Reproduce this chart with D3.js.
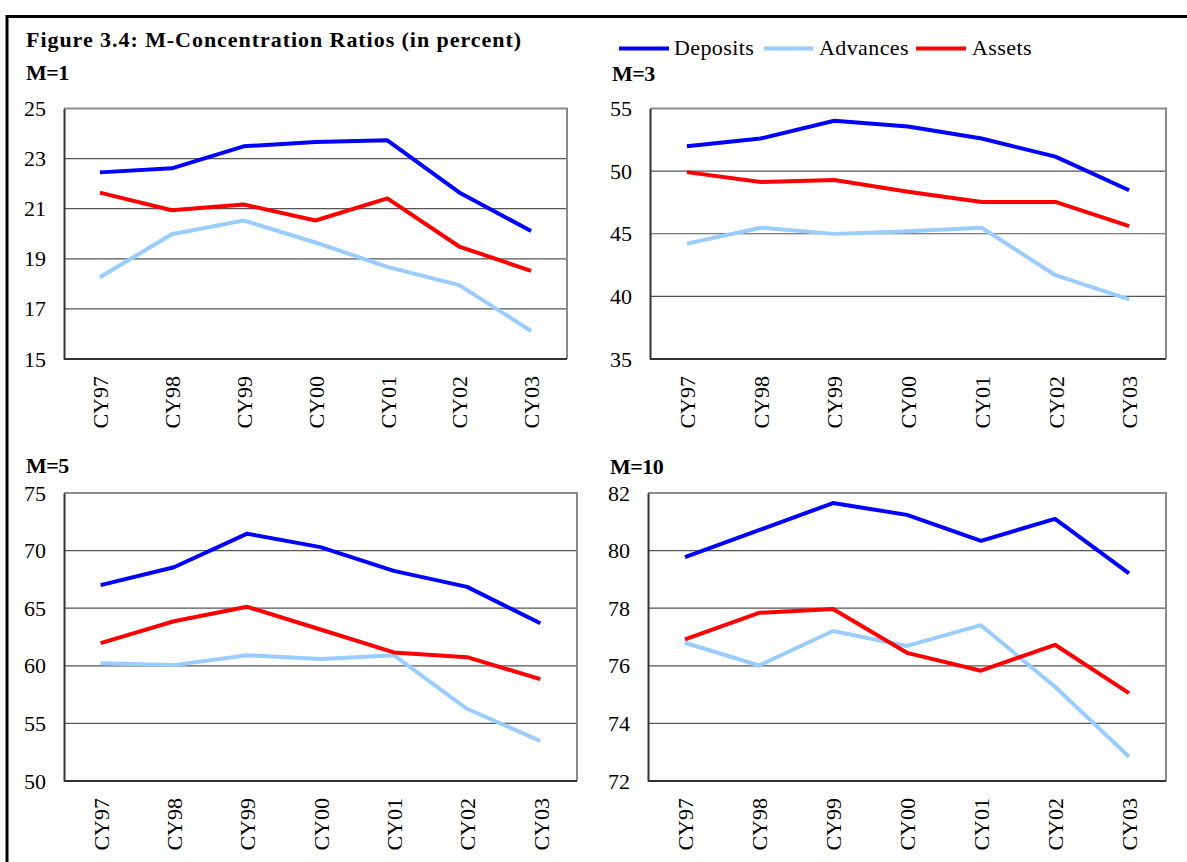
<!DOCTYPE html>
<html>
<head>
<meta charset="utf-8">
<script src="https://cdn.jsdelivr.net/npm/d3@7"></script>
<style>
  html, body { margin: 0; padding: 0; background: #fff; }
  svg { display: block; }
  text { font-family: "Liberation Serif", "Times New Roman", serif; fill: #000; }
</style>
</head>
<body>
<svg id="chart" width="1187" height="862"></svg>
<script>
// ---------------- data ----------------
const categories = ["CY97", "CY98", "CY99", "CY00", "CY01", "CY02", "CY03"];
const seriesNames = ["Deposits", "Advances", "Assets"];

const m1Deposits = [22.45, 22.61, 23.49, 23.66, 23.73, 21.65, 20.11];
const m1Advances = [18.26, 19.98, 20.53, 19.65, 18.68, 17.95, 16.12];
const m1Assets   = [21.64, 20.94, 21.17, 20.53, 21.41, 19.49, 18.52];

const m3Deposits = [51.98, 52.60, 54.02, 53.57, 52.60, 51.16, 48.47];
const m3Advances = [44.21, 45.48, 44.99, 45.19, 45.48, 41.69, 39.76];
const m3Assets   = [49.92, 49.13, 49.29, 48.36, 47.54, 47.54, 45.61];

const m5Deposits = [67.00, 68.55, 71.47, 70.30, 68.24, 66.85, 63.70];
const m5Advances = [60.23, 60.06, 60.92, 60.58, 60.92, 56.27, 53.47];
const m5Assets   = [61.97, 63.87, 65.12, 63.15, 61.16, 60.75, 58.84];

const m10Deposits = [79.77, 80.71, 81.65, 81.24, 80.34, 81.10, 79.21];
const m10Advances = [76.80, 76.01, 77.21, 76.69, 77.41, 75.27, 72.84];
const m10Assets   = [76.92, 77.84, 77.97, 76.45, 75.83, 76.73, 75.05];

const m1Ticks  = [15, 17, 19, 21, 23, 25];
const m3Ticks  = [35, 40, 45, 50, 55];
const m5Ticks  = [50, 55, 60, 65, 70, 75];
const m10Ticks = [72, 74, 76, 78, 80, 82];

const panelTitles = ["M=1", "M=3", "M=5", "M=10"];
const chartTitle = "Figure 3.4: M-Concentration Ratios (in percent)";

// ---------------- style / layout ----------------
const colors = { Deposits: "#0000ff", Advances: "#99ccff", Assets: "#ff0000" };
const FONT = 22;

const layout = [
  { left: 64,  right: 567,  top: 108.5, bottom: 359, titleX: 26,  titleY: 80 },
  { left: 650, right: 1166, top: 108.5, bottom: 359, titleX: 612, titleY: 81 },
  { left: 64,  right: 577,  top: 493,   bottom: 781, titleX: 26,  titleY: 473 },
  { left: 648, right: 1166, top: 493,   bottom: 781, titleX: 610, titleY: 474 }
];

const panels = [
  { title: panelTitles[0], ticks: m1Ticks,  series: [m1Deposits, m1Advances, m1Assets] },
  { title: panelTitles[1], ticks: m3Ticks,  series: [m3Deposits, m3Advances, m3Assets] },
  { title: panelTitles[2], ticks: m5Ticks,  series: [m5Deposits, m5Advances, m5Assets] },
  { title: panelTitles[3], ticks: m10Ticks, series: [m10Deposits, m10Advances, m10Assets] }
];

const svg = d3.select("#chart");

// outer frame
svg.append("rect")
  .attr("x", 7).attr("y", 16.5)
  .attr("width", 1300).attr("height", 1000)
  .attr("fill", "none").attr("stroke", "#000").attr("stroke-width", 3);

// figure title
svg.append("text")
  .attr("x", 26).attr("y", 47)
  .attr("font-size", FONT).attr("font-weight", "bold")
  .attr("textLength", 495).attr("lengthAdjust", "spacing")
  .text(chartTitle);

// legend
const legendItems = [
  { name: seriesNames[0], x1: 619, x2: 669, tx: 674 },
  { name: seriesNames[1], x1: 764, x2: 813, tx: 819 },
  { name: seriesNames[2], x1: 916, x2: 966, tx: 972 }
];
const legend = svg.append("g");
legendItems.forEach(it => {
  legend.append("line")
    .attr("x1", it.x1).attr("x2", it.x2)
    .attr("y1", 48.5).attr("y2", 48.5)
    .attr("stroke", colors[it.name]).attr("stroke-width", 4);
  legend.append("text")
    .attr("x", it.tx).attr("y", 55)
    .attr("font-size", FONT)
    .attr("letter-spacing", 0.4)
    .text(it.name);
});

// panels
panels.forEach((p, i) => {
  const L = layout[i];
  const g = svg.append("g");

  const x = d3.scalePoint().domain(categories).range([L.left, L.right]).padding(0.5);
  const y = d3.scaleLinear().domain(d3.extent(p.ticks)).range([L.bottom, L.top]);

  // panel title
  g.append("text")
    .attr("x", L.titleX).attr("y", L.titleY)
    .attr("font-size", FONT).attr("font-weight", "bold")
    .attr("letter-spacing", -0.5)
    .text(p.title);

  // grid lines
  g.append("g").selectAll("line")
    .data(p.ticks.slice(1, -1))
    .join("line")
    .attr("x1", L.left).attr("x2", L.right)
    .attr("y1", d => y(d)).attr("y2", d => y(d))
    .attr("stroke", "#555").attr("stroke-width", 1.2);

  // frame top & right (gray)
  g.append("path")
    .attr("d", `M${L.left},${y(p.ticks[p.ticks.length - 1])}H${L.right}V${L.bottom}`)
    .attr("fill", "none").attr("stroke", "#8a8a8a").attr("stroke-width", 2);

  // y axis
  const yAxis = g.append("g")
    .attr("transform", `translate(${L.left},0)`)
    .call(d3.axisLeft(y).tickValues(p.ticks).tickSize(0).tickPadding(18).tickFormat(d3.format("d")));
  yAxis.select(".domain").attr("stroke", "#333").attr("stroke-width", 2);
  yAxis.selectAll("text")
    .attr("font-size", FONT)
    .attr("font-family", "Liberation Serif, Times New Roman, serif")
    .attr("fill", "#000");

  // x axis
  const xAxis = g.append("g")
    .attr("transform", `translate(0,${L.bottom})`)
    .call(d3.axisBottom(x).tickSize(0).tickPadding(0));
  xAxis.select(".domain").attr("stroke", "#333").attr("stroke-width", 2)
    .attr("d", `M${L.left},0H${L.right}`);
  xAxis.selectAll("text")
    .attr("font-size", FONT)
    .attr("font-family", "Liberation Serif, Times New Roman, serif")
    .attr("fill", "#000")
    .attr("text-anchor", "end")
    .attr("transform", "rotate(-90)")
    .attr("x", -17).attr("y", 0).attr("dy", "0.35em");

  // series lines
  const line = d3.line().x((d, j) => x(categories[j])).y(d => y(d));
  p.series.forEach((vals, k) => {
    g.append("path")
      .datum(vals)
      .attr("d", line)
      .attr("fill", "none")
      .attr("stroke", colors[seriesNames[k]])
      .attr("stroke-width", 4)
      .attr("stroke-linejoin", "round");
  });
});
</script>
</body>
</html>
